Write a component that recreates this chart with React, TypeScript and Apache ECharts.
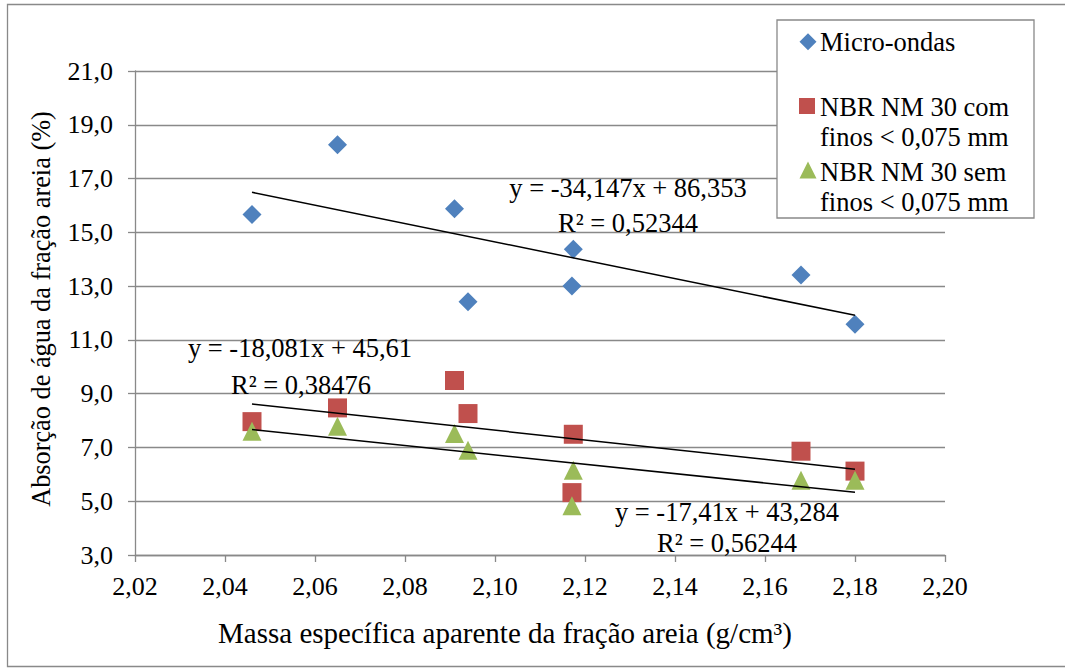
import React, { useEffect, useRef } from "react";
import * as echarts from "echarts";

const FONT = "'Liberation Serif', 'Times New Roman', serif";

// Apparent specific mass of the sand fraction (g/cm³), one value per sample
const massa = [2.046, 2.065, 2.091, 2.094, 2.1174, 2.1171, 2.168, 2.18];

// Water absorption of the sand fraction (%) by method
const microOndas = [15.66, 18.26, 15.88, 12.42, 14.37, 13.0, 13.41, 11.58];
const comFinos = [7.96, 8.47, 9.49, 8.26, 7.49, 5.32, 6.86, 6.12];
const semFinos = [7.6, 7.79, 7.52, 6.9, 6.15, 4.83, 5.78, 5.78];

// Legend labels, split into their printed lines
const legendLines = [
  ["Micro-ondas"],
  ["NBR NM 30 com", "finos < 0,075 mm"],
  ["NBR NM 30 sem", "finos < 0,075 mm"],
];
const seriesNames = legendLines.map((l) => l.join(" "));

// Linear trendlines: y = slope * x + intercept
const trendSlope = [-34.147, -18.081, -17.41];
const trendIntercept = [86.353, 45.61, 43.284];
const rSquared = [0.52344, 0.38476, 0.56244];

// Axis ranges and steps
const xMin = 2.02;
const xMax = 2.2;
const xStep = 0.02;
const yMin = 3;
const yMax = 21;
const yStep = 2;

const colors = ["#4F81BD", "#C0504D", "#9BBB59"];
const symbols = ["diamond", "rect", "triangle"];
const GRAY = "#898989";

const comma = (v: number) => String(v).replace(".", ",");

const textStyle = (text: string, size: number, align: string) => ({
  text,
  font: `${size}px ${FONT}`,
  fill: "#000",
  align,
  verticalAlign: "middle",
  textAlign: align,
  textVerticalAlign: "middle",
});

export default function App() {
  const ref = useRef<HTMLDivElement>(null);

  useEffect(() => {
    if (!ref.current) return;
    const chart = echarts.init(ref.current, null, { renderer: "svg" });

    const values = [microOndas, comFinos, semFinos];
    const lo = Math.min(...massa);
    const hi = Math.max(...massa);

    const scatter = values.map((ys, i) => ({
      name: seriesNames[i],
      type: "scatter",
      symbol: symbols[i],
      symbolSize: 19,
      itemStyle: { color: colors[i], opacity: 1 },
      data: massa.map((x, j) => [x, ys[j]]),
      z: 3,
    }));

    const trends = trendSlope.map((m, i) => ({
      name: "Linear (" + seriesNames[i] + ")",
      type: "line",
      symbol: "none",
      silent: true,
      lineStyle: { color: "#000", width: 1.5 },
      data: [
        [lo, m * lo + trendIntercept[i]],
        [hi, m * hi + trendIntercept[i]],
      ],
      z: 4,
    }));

    // Equation label anchors (centre of each text line)
    const eqPos = [
      [628, 188, 628, 223],
      [300, 348, 301, 385],
      [727, 512, 727, 543],
    ];
    const eqTexts: any[] = [];
    trendSlope.forEach((m, i) => {
      const [x1, y1, x2, y2] = eqPos[i];
      eqTexts.push({
        type: "text",
        x: x1,
        y: y1,
        z: 10,
        style: textStyle(`y = ${comma(m)}x + ${comma(trendIntercept[i])}`, 26.5, "center"),
      });
      eqTexts.push({
        type: "text",
        x: x2,
        y: y2,
        z: 10,
        style: textStyle(`R² = ${comma(rSquared[i])}`, 26.5, "center"),
      });
    });

    // Legend drawn as a boxed panel
    const legendTop = [41.7, 106.7, 171.7];
    const legendText: any[] = [];
    legendLines.forEach((lines, i) => {
      lines.forEach((t, k) => {
        legendText.push({
          type: "text",
          x: 820,
          y: legendTop[i] + k * 30,
          z: 11,
          style: textStyle(t, 26.5, "left"),
        });
      });
    });
    const icons: any[] = [
      {
        type: "polygon",
        z: 11,
        shape: {
          points: [
            [799.5, 41.7],
            [808, 33.2],
            [816.5, 41.7],
            [808, 50.2],
          ],
        },
        style: { fill: colors[0] },
      },
      {
        type: "rect",
        z: 11,
        shape: { x: 799, y: 98, width: 16, height: 16 },
        style: { fill: colors[1] },
      },
      {
        type: "polygon",
        z: 11,
        shape: {
          points: [
            [808, 161.5],
            [816.5, 178.5],
            [799.5, 178.5],
          ],
        },
        style: { fill: colors[2] },
      },
    ];

    chart.setOption({
      animation: false,
      backgroundColor: "#fff",
      grid: { left: 135, right: 120, top: 71, bottom: 114, containLabel: false },
      xAxis: {
        type: "value",
        min: xMin,
        max: xMax,
        interval: xStep,
        axisLine: { show: true, lineStyle: { color: GRAY, width: 1.3 } },
        axisTick: { show: true, length: 7, lineStyle: { color: GRAY, width: 1.3 } },
        splitLine: { show: false },
        axisLabel: {
          color: "#000",
          fontFamily: FONT,
          fontSize: 26,
          margin: 18,
          formatter: (v: number) => v.toFixed(2).replace(".", ","),
        },
      },
      yAxis: {
        type: "value",
        min: yMin,
        max: yMax,
        interval: yStep,
        axisLine: { show: true, lineStyle: { color: GRAY, width: 1.3 } },
        axisTick: { show: true, length: 7, lineStyle: { color: GRAY, width: 1.3 } },
        splitLine: { show: true, lineStyle: { color: GRAY, width: 1.3 } },
        axisLabel: {
          color: "#000",
          fontFamily: FONT,
          fontSize: 26,
          margin: 22,
          formatter: (v: number) => v.toFixed(1).replace(".", ","),
        },
      },
      series: [...scatter, ...trends],
      graphic: [
        {
          type: "rect",
          z: 0,
          silent: true,
          shape: { x: 7.5, y: 4.5, width: 1070, height: 662 },
          style: { fill: "none", stroke: GRAY, lineWidth: 1.3 },
        },
        {
          type: "rect",
          z: 10,
          shape: { x: 777, y: 20, width: 257, height: 198 },
          style: { fill: "#fff", stroke: GRAY, lineWidth: 1.3 },
        },
        ...icons,
        ...legendText,
        ...eqTexts,
        {
          type: "text",
          x: 41,
          y: 309,
          rotation: Math.PI / 2,
          style: textStyle("Absorção de água da fração areia (%)", 26.3, "center"),
        },
        {
          type: "text",
          x: 505,
          y: 633,
          style: textStyle("Massa específica aparente da fração areia (g/cm³)", 29, "center"),
        },
      ],
    });

    return () => chart.dispose();
  }, []);

  return (
    <div
      ref={ref}
      style={{ position: "fixed", left: 0, top: 0, width: 1065, height: 669, background: "#fff" }}
    />
  );
}
